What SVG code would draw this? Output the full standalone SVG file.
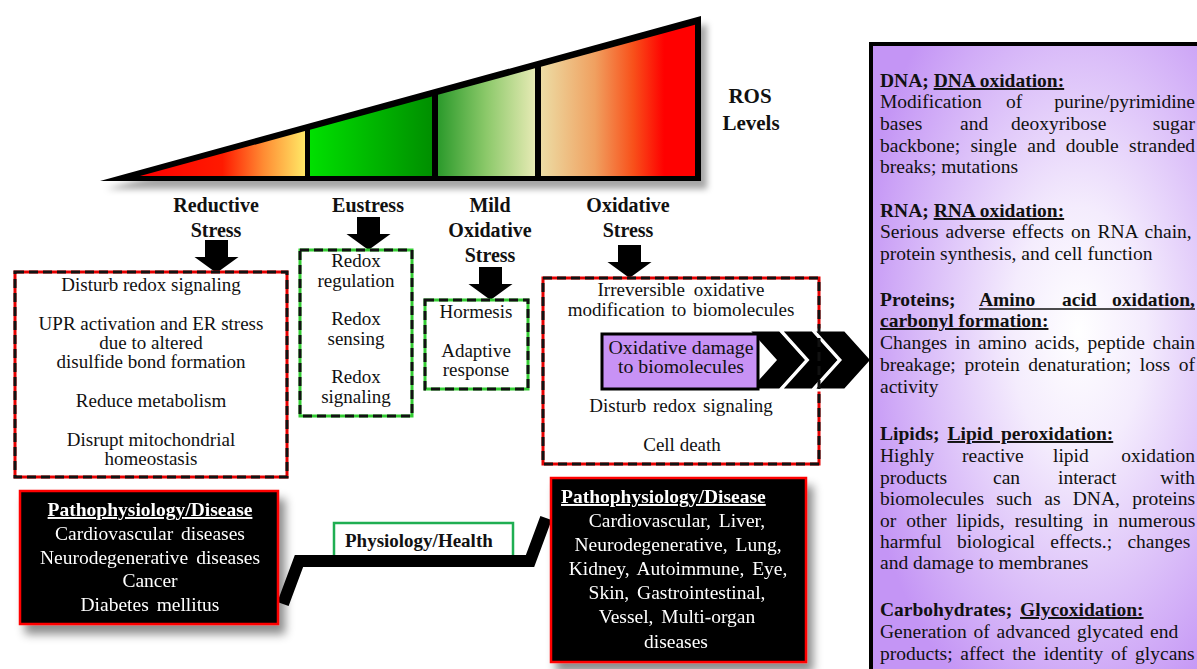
<svg xmlns="http://www.w3.org/2000/svg" width="1197" height="669" viewBox="0 0 1197 669">
<style>
.t{font-family:"Liberation Serif","Times New Roman",serif;font-size:19px;fill:#111}
.p{font-family:"Liberation Serif","Times New Roman",serif;font-size:19.5px;fill:#111}
.c{text-anchor:middle}
.e{text-anchor:end}
.b{font-weight:bold}
.h{font-family:"Liberation Serif","Times New Roman",serif;font-size:20px;font-weight:bold;fill:#111;text-anchor:middle}
.w{fill:#fff}
.u{text-decoration:underline}
.redbase{fill:#fff;stroke:#e60000;stroke-width:3}
.greenbase{fill:#fff;stroke:#3c3;stroke-width:3}
.dash{fill:none;stroke:#111;stroke-width:3;stroke-dasharray:9 5}
.blk{fill:#000;stroke:#f00;stroke-width:2.5}
.arrow{fill:#000}
.chev{fill:#000;stroke:#fff;stroke-width:3;stroke-linejoin:miter}
</style>
<defs>
<filter id="sh" x="-10%" y="-10%" width="130%" height="140%">
<feDropShadow dx="6" dy="9" stdDeviation="5" flood-color="#000" flood-opacity="0.45"/>
</filter>
<filter id="sh2" x="-10%" y="-20%" width="130%" height="150%">
<feDropShadow dx="6" dy="8" stdDeviation="3" flood-color="#000" flood-opacity="0.35"/>
</filter>
<linearGradient id="g1" x1="0" y1="0" x2="1" y2="0">
<stop offset="0" stop-color="#ff0000"/><stop offset="0.5" stop-color="#ff1a00"/><stop offset="0.75" stop-color="#ff8c33"/><stop offset="1" stop-color="#ffe866"/>
</linearGradient>
<linearGradient id="g2" x1="0" y1="0" x2="1" y2="0">
<stop offset="0" stop-color="#00e000"/><stop offset="1" stop-color="#008f00"/>
</linearGradient>
<linearGradient id="g3" x1="0" y1="0" x2="1" y2="0">
<stop offset="0" stop-color="#2b9a2b"/><stop offset="0.5" stop-color="#8cc96a"/><stop offset="1" stop-color="#e6eab4"/>
</linearGradient>
<linearGradient id="g4" x1="0" y1="0" x2="1" y2="0">
<stop offset="0" stop-color="#ecdca4"/><stop offset="0.35" stop-color="#f0a060"/><stop offset="0.6" stop-color="#f8501a"/><stop offset="0.8" stop-color="#ff0000"/><stop offset="1" stop-color="#ff0000"/>
</linearGradient>
<radialGradient id="pg" cx="0.6" cy="0.45" r="0.65">
<stop offset="0" stop-color="#ffffff"/><stop offset="0.3" stop-color="#f4ecfd"/><stop offset="1" stop-color="#c495f5"/>
</radialGradient>
<path id="dn" d="M-11.5,0 H11.5 V17 H22 L0,33 L-22,17 H-11.5 Z"/>
<path id="cv" d="M0,0 H32 L59,30 L32,60 H0 L27,30 Z"/>
</defs>

<g id="ros-triangle">
<g filter="url(#sh2)">
<polygon points="100,181 701,16 701,181" fill="#000"/>
</g>
<polygon points="140,176 305,131 305,176" fill="url(#g1)"/>
<polygon points="310,176 310,129.7 432,96.4 432,176" fill="url(#g2)"/>
<polygon points="438,176 438,94.8 535,68.3 535,176" fill="url(#g3)"/>
<polygon points="541,176 541,66.7 695,24.7 695,176" fill="url(#g4)"/>
<text class="h" x="750" y="103" style="font-size:21px">ROS</text>
<text class="h" x="751" y="130" style="font-size:21px">Levels</text>
</g>

<g id="headers">
<text class="h" x="216" y="212">Reductive</text>
<text class="h" x="216" y="237">Stress</text>
<text class="h" x="368" y="212">Eustress</text>
<text class="h" x="490" y="212">Mild</text>
<text class="h" x="490" y="237">Oxidative</text>
<text class="h" x="490" y="262">Stress</text>
<text class="h" x="628" y="212">Oxidative</text>
<text class="h" x="628" y="237">Stress</text>
</g>

<g id="connectors">
<use href="#dn" class="arrow" x="216.5" y="240"/>
<use href="#dn" class="arrow" x="368.5" y="217"/>
<use href="#dn" class="arrow" x="490.5" y="267"/>
<use href="#dn" class="arrow" x="629.5" y="245"/>
</g>

<g id="reductive-box">
<rect class="redbase" x="15" y="272" width="272" height="205"/>
<rect class="dash" x="15" y="272" width="272" height="205"/>
<text class="t c" x="151" y="291">Disturb redox signaling</text>
<text class="t c" x="151" y="330">UPR activation and ER stress</text>
<text class="t c" x="151" y="349">due to altered</text>
<text class="t c" x="151" y="368">disulfide bond formation</text>
<text class="t c" x="151" y="407">Reduce metabolism</text>
<text class="t c" x="151" y="446">Disrupt mitochondrial</text>
<text class="t c" x="151" y="465">homeostasis</text>
</g>

<g id="eustress-box">
<rect class="greenbase" x="300" y="250" width="112" height="166"/>
<rect class="dash" x="300" y="250" width="112" height="166"/>
<text class="t c" x="356" y="267">Redox</text>
<text class="t c" x="356" y="287">regulation</text>
<text class="t c" x="356" y="325">Redox</text>
<text class="t c" x="356" y="345">sensing</text>
<text class="t c" x="356" y="383">Redox</text>
<text class="t c" x="356" y="403">signaling</text>
</g>

<g id="mild-box">
<rect class="greenbase" x="425" y="300" width="103" height="89"/>
<rect class="dash" x="425" y="300" width="103" height="89"/>
<text class="t c" x="476" y="318">Hormesis</text>
<text class="t c" x="476" y="357">Adaptive</text>
<text class="t c" x="476" y="376">response</text>
</g>

<g id="oxidative-box">
<rect class="redbase" x="543" y="278" width="276" height="186"/>
<text class="t c" x="681" y="296" style="word-spacing:4px">Irreversible oxidative</text>
<text class="t c" x="681" y="316" style="word-spacing:2px">modification to biomolecules</text>
<text class="t c" x="681" y="412" style="word-spacing:2px">Disturb redox signaling</text>
<text class="t c" x="682" y="451">Cell death</text>
</g>

<g id="chevrons">
<use href="#cv" class="chev" x="748" y="330"/>
<use href="#cv" class="chev" x="780.5" y="330"/>
<use href="#cv" class="chev" x="813" y="330"/>
</g>

<g id="oxidative-damage">
<rect x="602" y="334" width="156" height="55" fill="#c892f5" stroke="#000" stroke-width="3"/>
<text class="t c" x="681" y="354" style="font-size:18px" textLength="145" lengthAdjust="spacingAndGlyphs">Oxidative  damage</text>
<text class="t c" x="681" y="373" style="font-size:18px" textLength="126" lengthAdjust="spacingAndGlyphs">to biomolecules</text>
</g>
<rect class="dash" x="543" y="278" width="276" height="186"/>

<g id="physiology-health">
<rect x="334" y="523" width="179" height="40" fill="#fff" stroke="#1fae52" stroke-width="2.5"/>
<text class="t b" x="345" y="547">Physiology/Health</text>
</g>

<g id="connector-line">
<polyline points="283,604 299,561 530,561 546,518" fill="none" stroke="#000" stroke-width="12" stroke-linejoin="miter"/>
</g>

<g id="disease-left" filter="url(#sh)">
<rect class="blk" x="20" y="491" width="258" height="133"/>
<text class="p c w b u" x="150" y="516">Pathophysiology/Disease</text>
<text class="p c w" x="150" y="540" style="word-spacing:3px">Cardiovascular diseases</text>
<text class="p c w" x="150" y="564" style="word-spacing:3px">Neurodegenerative diseases</text>
<text class="p c w" x="150" y="587">Cancer</text>
<text class="p c w" x="150" y="611" style="word-spacing:3px">Diabetes mellitus</text>
</g>

<g id="disease-right" filter="url(#sh)">
<rect class="blk" x="551" y="478" width="255" height="184"/>
<text class="p w b u" x="561" y="503">Pathophysiology/Disease</text>
<text class="p c w" x="677" y="527" style="word-spacing:3px">Cardiovascular, Liver,</text>
<text class="p c w" x="678" y="551" style="word-spacing:3px">Neurodegenerative, Lung,</text>
<text class="p c w" x="678" y="575" style="word-spacing:3px">Kidney, Autoimmune, Eye,</text>
<text class="p c w" x="677" y="599" style="word-spacing:3px">Skin, Gastrointestinal,</text>
<text class="p c w" x="677" y="623" style="word-spacing:3px">Vessel, Multi-organ</text>
<text class="p c w" x="676" y="648">diseases</text>
</g>

<g id="biomolecules-panel">
<rect x="871" y="44" width="345" height="640" fill="url(#pg)" stroke="#000" stroke-width="4"/>
<text class="p b" x="880" y="87">DNA; <tspan class="u">DNA oxidation:</tspan></text>
<text class="p" y="108"><tspan x="880">Modification</tspan><tspan x="1006">of</tspan><tspan x="1195" class="e">purine/pyrimidine</tspan></text>
<text class="p" y="130"><tspan x="880">bases</tspan><tspan x="960">and</tspan><tspan x="1011">deoxyribose</tspan><tspan x="1195" class="e">sugar</tspan></text>
<text class="p" x="880" y="152" style="word-spacing:5.4px">backbone; single and double stranded</text>
<text class="p" x="880" y="173">breaks; mutations</text>
<text class="p b" x="880" y="217">RNA; <tspan class="u">RNA oxidation:</tspan></text>
<text class="p" x="880" y="238" style="word-spacing:2.2px">Serious adverse effects on RNA chain,</text>
<text class="p" x="880" y="260">protein synthesis, and cell function</text>
<text class="p b" y="306"><tspan x="880">Proteins;</tspan><tspan x="979">Amino</tspan><tspan x="1062">acid</tspan><tspan x="1195" class="e">oxidation,</tspan></text>
<line x1="979" y1="309" x2="1195" y2="309" stroke="#111" stroke-width="1.4"/>
<text class="p b u" x="880" y="327">carbonyl formation:</text>
<text class="p" x="880" y="349" style="word-spacing:3px">Changes in amino acids, peptide chain</text>
<text class="p" x="880" y="371" style="word-spacing:3.75px">breakage; protein denaturation; loss of</text>
<text class="p" x="880" y="393">activity</text>
<text class="p b" x="880" y="440" style="word-spacing:3px">Lipids; <tspan class="u">Lipid peroxidation:</tspan></text>
<text class="p" y="462"><tspan x="880">Highly</tspan><tspan x="962">reactive</tspan><tspan x="1053">lipid</tspan><tspan x="1195" class="e">oxidation</tspan></text>
<text class="p" y="484"><tspan x="880">products</tspan><tspan x="993">can</tspan><tspan x="1058">interact</tspan><tspan x="1195" class="e">with</tspan></text>
<text class="p" x="880" y="505" style="word-spacing:7.4px">biomolecules such as DNA, proteins</text>
<text class="p" x="880" y="527" style="word-spacing:5.2px">or other lipids, resulting in numerous</text>
<text class="p" x="880" y="548" style="word-spacing:10.4px">harmful biological effects.; changes</text>
<text class="p" x="880" y="569">and damage to membranes</text>
<text class="p b" x="880" y="616" style="word-spacing:3px">Carbohydrates; <tspan class="u">Glycoxidation:</tspan></text>
<text class="p" x="880" y="638" style="word-spacing:2px">Generation of advanced glycated end</text>
<text class="p" x="880" y="660" style="word-spacing:2.9px">products; affect the identity of glycans</text>
</g>
</svg>
